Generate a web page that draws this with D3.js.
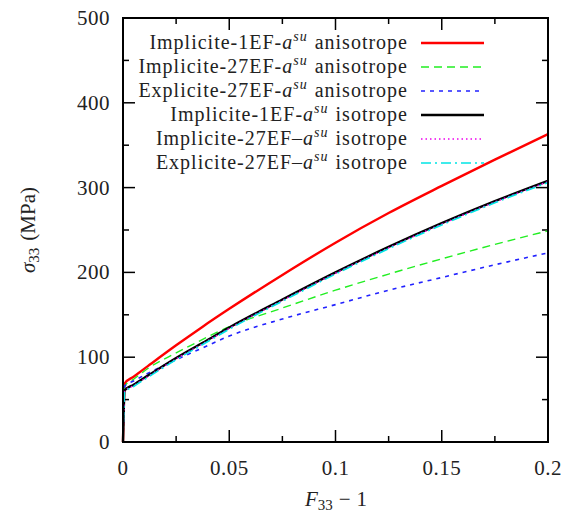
<!DOCTYPE html>
<html><head><meta charset="utf-8">
<script src="https://cdn.jsdelivr.net/npm/d3@7"></script>
<style>body{margin:0;background:#fff}svg{display:block}text{font-family:"Liberation Serif","DejaVu Serif",serif;fill:#222}</style>
</head><body><svg id="c" width="568" height="515"></svg>
<script>
const strain = [0, 0.0008, 0.005, 0.0125, 0.025, 0.0375, 0.05, 0.075, 0.1, 0.125, 0.15, 0.175, 0.2];
const red    = [0, 69, 77, 91, 114, 136, 157, 197, 235, 270, 302, 333, 363];
const green  = [0, 66, 74, 88, 105, 121, 136, 158, 179, 198, 216, 233, 249];
const blue   = [0, 66, 72, 82, 97, 111, 125, 145, 162, 179, 194, 209, 223];
const black  = [0, 61, 67.5, 79.5, 99, 117, 135, 168, 200, 230, 258, 284, 308];
const magenta= [0, 60, 66.5, 78.5, 98, 116, 134, 167, 199, 229, 257, 283, 307];
const cyan   = [0, 59, 65.5, 77.5, 97, 115, 133, 166, 198, 228, 256, 282, 306];
const labels = ["Implicite-1EF-", "Implicite-27EF-", "Explicite-27EF-", "Implicite-1EF-", "Implicite-27EF\u2013", "Explicite-27EF\u2013"];
const suffix = ["anisotrope","anisotrope","anisotrope","isotrope","isotrope","isotrope"];
const xTicks = [0, 0.05, 0.1, 0.15, 0.2];
const xTickLabels = ["0","0.05","0.1","0.15","0.2"];
const yTicks = [0, 100, 200, 300, 400, 500];

const series = [
  {v: red, color: "#ff0000", w: 2.4, dash: null},
  {v: green, color: "#22ee22", w: 1.4, dash: "8,5"},
  {v: blue, color: "#2222ff", w: 1.6, dash: "4,5"},
  {v: black, color: "#000000", w: 2.4, dash: null},
  {v: magenta, color: "#ee00ee", w: 1.4, dash: "1.5,3"},
  {v: cyan, color: "#00e5e5", w: 1.6, dash: "10,4,2,4"}
];

const svg = d3.select("#c");
const L = 123, R = 548, T = 18, B = 442;
const x = d3.scaleLinear().domain([0, 0.2]).range([L, R]);
const y = d3.scaleLinear().domain([0, 500]).range([B, T]);

// ticks
const xMinor = d3.range(0.025, 0.2, 0.05);
const yMinor = d3.range(50, 500, 100);
const tk = svg.append("g").attr("stroke", "#000").attr("stroke-width", 1.5);
function vt(v, len){ tk.append("line").attr("x1", x(v)).attr("x2", x(v)).attr("y1", B).attr("y2", B-len);
  tk.append("line").attr("x1", x(v)).attr("x2", x(v)).attr("y1", T).attr("y2", T+len); }
function ht(v, len){ tk.append("line").attr("y1", y(v)).attr("y2", y(v)).attr("x1", L).attr("x2", L+len);
  tk.append("line").attr("y1", y(v)).attr("y2", y(v)).attr("x1", R).attr("x2", R-len); }
xTicks.forEach(v => vt(v, 12)); xMinor.forEach(v => vt(v, 6));
yTicks.forEach(v => ht(v, 12)); yMinor.forEach(v => ht(v, 6));

// tick labels
svg.append("g").selectAll("text").data(xTicks).join("text")
  .attr("x", d => x(d)).attr("y", 475).attr("text-anchor", "middle").attr("font-size", 21)
  .attr("letter-spacing", 0.5)
  .text((d,i) => xTickLabels[i]);
svg.append("g").selectAll("text").data(yTicks).join("text")
  .attr("x", 110).attr("y", d => y(d) + 7).attr("text-anchor", "end").attr("font-size", 21)
  .attr("letter-spacing", 0.5)
  .text(d => d);

// curves
const line = d3.line().x((d,i) => x(strain[i])).y(d => y(d)).curve(d3.curveMonotoneX);
svg.append("g").selectAll("path").data(series).join("path")
  .attr("d", d => line(d.v)).attr("fill", "none")
  .attr("stroke", d => d.color).attr("stroke-width", d => d.w)
  .attr("stroke-dasharray", d => d.dash);

// frame
svg.append("rect").attr("x", L).attr("y", T).attr("width", R-L).attr("height", B-T)
  .attr("fill", "none").attr("stroke", "#000").attr("stroke-width", 2);

// legend
const lg = svg.append("g");
series.forEach((s, i) => {
  const yy = 43 + i*24;
  const t = lg.append("text").attr("x", 408).attr("y", yy + 6).attr("text-anchor", "end")
    .attr("font-size", 20).attr("letter-spacing", 1);
  t.append("tspan").text(labels[i]);
  t.append("tspan").attr("font-style", "italic").text("a");
  t.append("tspan").attr("font-style", "italic").attr("font-size", 14).attr("dy", -8).text("su");
  t.append("tspan").attr("dy", 8).attr("dx", 7).text(suffix[i]);
  lg.append("line").attr("x1", 421).attr("x2", 484).attr("y1", yy).attr("y2", yy)
    .attr("stroke", s.color).attr("stroke-width", s.w).attr("stroke-dasharray", s.dash);
});

// axis titles
const xl = svg.append("text").attr("x", 336).attr("y", 506).attr("text-anchor", "middle").attr("font-size", 21);
xl.append("tspan").attr("font-style", "italic").text("F");
xl.append("tspan").attr("font-size", 15).attr("dy", 4).text("33");
xl.append("tspan").attr("dy", -4).attr("dx", 6).text("\u2212");
xl.append("tspan").attr("dx", 6).text("1");
const yl = svg.append("text").attr("transform", "translate(35,230) rotate(-90)").attr("text-anchor", "middle").attr("font-size", 21);
yl.append("tspan").attr("font-style", "italic").text("\u03c3");
yl.append("tspan").attr("font-size", 15).attr("dy", 4).text("33");
yl.append("tspan").attr("dy", -4).attr("dx", 7).text("(MPa)");
</script></body></html>
